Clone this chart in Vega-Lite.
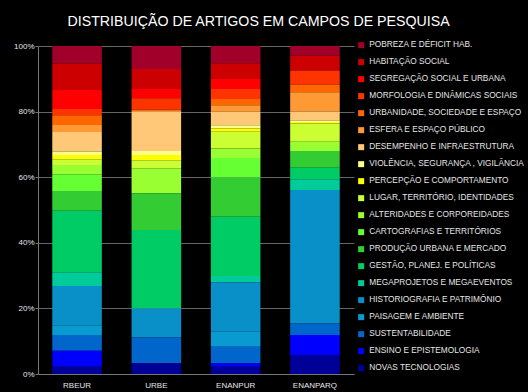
{
  "$schema": "https://vega.github.io/schema/vega-lite/v6.json",
  "width": 316,
  "height": 328,
  "autosize": {"type": "none"},
  "padding": {"left": 38, "top": 46, "right": 174, "bottom": 18},
  "background": "#000000",
  "title": {
    "text": "DISTRIBUIÇÃO DE ARTIGOS EM CAMPOS DE PESQUISA",
    "anchor": "start",
    "dx": 54,
    "fontSize": 14.2,
    "font": "Liberation Sans",
    "color": "#ffffff",
    "fontWeight": "normal",
    "offset": 1,
    "baseline": "alphabetic"
  },
  "config": {
    "view": {"stroke": null},
    "font": "Liberation Sans"
  },
  "data": {
    "values": [
      {"venue": "RBEUR", "n": 1, "campo": "POBREZA E DÉFICIT HAB.", "pct": 5.3},
      {"venue": "RBEUR", "n": 2, "campo": "HABITAÇÃO SOCIAL", "pct": 8.1},
      {"venue": "RBEUR", "n": 3, "campo": "SEGREGAÇÃO SOCIAL E URBANA", "pct": 5.8},
      {"venue": "RBEUR", "n": 4, "campo": "MORFOLOGIA E DINÂMICAS SOCIAIS", "pct": 1.9},
      {"venue": "RBEUR", "n": 5, "campo": "URBANIDADE, SOCIEDADE E ESPAÇO", "pct": 3.0},
      {"venue": "RBEUR", "n": 6, "campo": "ESFERA E ESPAÇO PÚBLICO", "pct": 2.1},
      {"venue": "RBEUR", "n": 7, "campo": "DESEMPENHO E INFRAESTRUTURA", "pct": 6.0},
      {"venue": "RBEUR", "n": 8, "campo": "VIOLÊNCIA, SEGURANÇA , VIGILÂNCIA", "pct": 1.0},
      {"venue": "RBEUR", "n": 9, "campo": "PERCEPÇÃO E COMPORTAMENTO", "pct": 1.3},
      {"venue": "RBEUR", "n": 10, "campo": "LUGAR, TERRITÓRIO, IDENTIDADES", "pct": 1.8},
      {"venue": "RBEUR", "n": 11, "campo": "ALTERIDADES E CORPOREIDADES", "pct": 2.8},
      {"venue": "RBEUR", "n": 12, "campo": "CARTOGRAFIAS E TERRITÓRIOS", "pct": 5.1},
      {"venue": "RBEUR", "n": 13, "campo": "PRODUÇÃO URBANA E MERCADO", "pct": 6.0},
      {"venue": "RBEUR", "n": 14, "campo": "GESTÃO, PLANEJ. E POLÍTICAS", "pct": 18.8},
      {"venue": "RBEUR", "n": 15, "campo": "MEGAPROJETOS E MEGAEVENTOS", "pct": 4.2},
      {"venue": "RBEUR", "n": 16, "campo": "HISTORIOGRAFIA E PATRIMÔNIO", "pct": 11.9},
      {"venue": "RBEUR", "n": 17, "campo": "PAISAGEM E AMBIENTE", "pct": 3.0},
      {"venue": "RBEUR", "n": 18, "campo": "SUSTENTABILIDADE", "pct": 4.8},
      {"venue": "RBEUR", "n": 19, "campo": "ENSINO E EPISTEMOLOGIA", "pct": 4.9},
      {"venue": "RBEUR", "n": 20, "campo": "NOVAS TECNOLOGIAS", "pct": 2.2},

      {"venue": "URBE", "n": 1, "campo": "POBREZA E DÉFICIT HAB.", "pct": 7.0},
      {"venue": "URBE", "n": 2, "campo": "HABITAÇÃO SOCIAL", "pct": 6.1},
      {"venue": "URBE", "n": 3, "campo": "SEGREGAÇÃO SOCIAL E URBANA", "pct": 2.8},
      {"venue": "URBE", "n": 4, "campo": "MORFOLOGIA E DINÂMICAS SOCIAIS", "pct": 3.5},
      {"venue": "URBE", "n": 5, "campo": "URBANIDADE, SOCIEDADE E ESPAÇO", "pct": 0.5},
      {"venue": "URBE", "n": 6, "campo": "ESFERA E ESPAÇO PÚBLICO", "pct": 0},
      {"venue": "URBE", "n": 7, "campo": "DESEMPENHO E INFRAESTRUTURA", "pct": 12.1},
      {"venue": "URBE", "n": 8, "campo": "VIOLÊNCIA, SEGURANÇA , VIGILÂNCIA", "pct": 1.2},
      {"venue": "URBE", "n": 9, "campo": "PERCEPÇÃO E COMPORTAMENTO", "pct": 1.6},
      {"venue": "URBE", "n": 10, "campo": "LUGAR, TERRITÓRIO, IDENTIDADES", "pct": 2.5},
      {"venue": "URBE", "n": 11, "campo": "ALTERIDADES E CORPOREIDADES", "pct": 7.6},
      {"venue": "URBE", "n": 12, "campo": "CARTOGRAFIAS E TERRITÓRIOS", "pct": 0},
      {"venue": "URBE", "n": 13, "campo": "PRODUÇÃO URBANA E MERCADO", "pct": 11.2},
      {"venue": "URBE", "n": 14, "campo": "GESTÃO, PLANEJ. E POLÍTICAS", "pct": 23.9},
      {"venue": "URBE", "n": 15, "campo": "MEGAPROJETOS E MEGAEVENTOS", "pct": 0},
      {"venue": "URBE", "n": 16, "campo": "HISTORIOGRAFIA E PATRIMÔNIO", "pct": 8.9},
      {"venue": "URBE", "n": 17, "campo": "PAISAGEM E AMBIENTE", "pct": 0},
      {"venue": "URBE", "n": 18, "campo": "SUSTENTABILIDADE", "pct": 7.8},
      {"venue": "URBE", "n": 19, "campo": "ENSINO E EPISTEMOLOGIA", "pct": 0},
      {"venue": "URBE", "n": 20, "campo": "NOVAS TECNOLOGIAS", "pct": 3.3},

      {"venue": "ENANPUR", "n": 1, "campo": "POBREZA E DÉFICIT HAB.", "pct": 5.3},
      {"venue": "ENANPUR", "n": 2, "campo": "HABITAÇÃO SOCIAL", "pct": 4.8},
      {"venue": "ENANPUR", "n": 3, "campo": "SEGREGAÇÃO SOCIAL E URBANA", "pct": 3.0},
      {"venue": "ENANPUR", "n": 4, "campo": "MORFOLOGIA E DINÂMICAS SOCIAIS", "pct": 3.1},
      {"venue": "ENANPUR", "n": 5, "campo": "URBANIDADE, SOCIEDADE E ESPAÇO", "pct": 1.9},
      {"venue": "ENANPUR", "n": 6, "campo": "ESFERA E ESPAÇO PÚBLICO", "pct": 2.0},
      {"venue": "ENANPUR", "n": 7, "campo": "DESEMPENHO E INFRAESTRUTURA", "pct": 4.1},
      {"venue": "ENANPUR", "n": 8, "campo": "VIOLÊNCIA, SEGURANÇA , VIGILÂNCIA", "pct": 1.0},
      {"venue": "ENANPUR", "n": 9, "campo": "PERCEPÇÃO E COMPORTAMENTO", "pct": 1.0},
      {"venue": "ENANPUR", "n": 10, "campo": "LUGAR, TERRITÓRIO, IDENTIDADES", "pct": 5.1},
      {"venue": "ENANPUR", "n": 11, "campo": "ALTERIDADES E CORPOREIDADES", "pct": 2.9},
      {"venue": "ENANPUR", "n": 12, "campo": "CARTOGRAFIAS E TERRITÓRIOS", "pct": 5.9},
      {"venue": "ENANPUR", "n": 13, "campo": "PRODUÇÃO URBANA E MERCADO", "pct": 12.0},
      {"venue": "ENANPUR", "n": 14, "campo": "GESTÃO, PLANEJ. E POLÍTICAS", "pct": 18.1},
      {"venue": "ENANPUR", "n": 15, "campo": "MEGAPROJETOS E MEGAEVENTOS", "pct": 1.9},
      {"venue": "ENANPUR", "n": 16, "campo": "HISTORIOGRAFIA E PATRIMÔNIO", "pct": 15.1},
      {"venue": "ENANPUR", "n": 17, "campo": "PAISAGEM E AMBIENTE", "pct": 4.6},
      {"venue": "ENANPUR", "n": 18, "campo": "SUSTENTABILIDADE", "pct": 5.0},
      {"venue": "ENANPUR", "n": 19, "campo": "ENSINO E EPISTEMOLOGIA", "pct": 1.1},
      {"venue": "ENANPUR", "n": 20, "campo": "NOVAS TECNOLOGIAS", "pct": 2.2},

      {"venue": "ENANPARQ", "n": 1, "campo": "POBREZA E DÉFICIT HAB.", "pct": 3.0},
      {"venue": "ENANPARQ", "n": 2, "campo": "HABITAÇÃO SOCIAL", "pct": 4.5},
      {"venue": "ENANPARQ", "n": 3, "campo": "SEGREGAÇÃO SOCIAL E URBANA", "pct": 0},
      {"venue": "ENANPARQ", "n": 4, "campo": "MORFOLOGIA E DINÂMICAS SOCIAIS", "pct": 4.2},
      {"venue": "ENANPARQ", "n": 5, "campo": "URBANIDADE, SOCIEDADE E ESPAÇO", "pct": 2.4},
      {"venue": "ENANPARQ", "n": 6, "campo": "ESFERA E ESPAÇO PÚBLICO", "pct": 5.9},
      {"venue": "ENANPARQ", "n": 7, "campo": "DESEMPENHO E INFRAESTRUTURA", "pct": 2.8},
      {"venue": "ENANPARQ", "n": 8, "campo": "VIOLÊNCIA, SEGURANÇA , VIGILÂNCIA", "pct": 0.4},
      {"venue": "ENANPARQ", "n": 9, "campo": "PERCEPÇÃO E COMPORTAMENTO", "pct": 0.4},
      {"venue": "ENANPARQ", "n": 10, "campo": "LUGAR, TERRITÓRIO, IDENTIDADES", "pct": 5.6},
      {"venue": "ENANPARQ", "n": 11, "campo": "ALTERIDADES E CORPOREIDADES", "pct": 2.8},
      {"venue": "ENANPARQ", "n": 12, "campo": "CARTOGRAFIAS E TERRITÓRIOS", "pct": 0},
      {"venue": "ENANPARQ", "n": 13, "campo": "PRODUÇÃO URBANA E MERCADO", "pct": 5.1},
      {"venue": "ENANPARQ", "n": 14, "campo": "GESTÃO, PLANEJ. E POLÍTICAS", "pct": 3.5},
      {"venue": "ENANPARQ", "n": 15, "campo": "MEGAPROJETOS E MEGAEVENTOS", "pct": 3.3},
      {"venue": "ENANPARQ", "n": 16, "campo": "HISTORIOGRAFIA E PATRIMÔNIO", "pct": 40.6},
      {"venue": "ENANPARQ", "n": 17, "campo": "PAISAGEM E AMBIENTE", "pct": 0},
      {"venue": "ENANPARQ", "n": 18, "campo": "SUSTENTABILIDADE", "pct": 3.6},
      {"venue": "ENANPARQ", "n": 19, "campo": "ENSINO E EPISTEMOLOGIA", "pct": 6.1},
      {"venue": "ENANPARQ", "n": 20, "campo": "NOVAS TECNOLOGIAS", "pct": 5.8}
    ]
  },
  "mark": {"type": "bar", "strokeWidth": 0},
  "encoding": {
    "x": {
      "field": "venue",
      "type": "nominal",
      "sort": ["RBEUR", "URBE", "ENANPUR", "ENANPARQ"],
      "scale": {"paddingInner": 0.375, "paddingOuter": 0.18},
      "axis": {
        "title": null,
        "labelAngle": 0,
        "labelFontSize": 8,
        "labelColor": "#e6e6e6",
        "labelFont": "Liberation Sans",
        "ticks": false,
        "labelPadding": 7,
        "domainColor": "#777777",
        "grid": false
      }
    },
    "y": {
      "field": "pct",
      "type": "quantitative",
      "stack": "normalize",
      "axis": {
        "title": null,
        "format": ".0%",
        "values": [0, 0.2, 0.4, 0.6, 0.8, 1],
        "labelFontSize": 8,
        "labelColor": "#e6e6e6",
        "labelFont": "Liberation Sans",
        "tickSize": 3,
        "tickColor": "#777777",
        "labelPadding": 1,
        "domainColor": "#777777",
        "gridColor": "#666666",
        "grid": true
      }
    },
    "order": {"field": "n", "type": "quantitative", "sort": "descending"},
    "color": {
      "field": "campo",
      "type": "nominal",
      "sort": [
        "POBREZA E DÉFICIT HAB.",
        "HABITAÇÃO SOCIAL",
        "SEGREGAÇÃO SOCIAL E URBANA",
        "MORFOLOGIA E DINÂMICAS SOCIAIS",
        "URBANIDADE, SOCIEDADE E ESPAÇO",
        "ESFERA E ESPAÇO PÚBLICO",
        "DESEMPENHO E INFRAESTRUTURA",
        "VIOLÊNCIA, SEGURANÇA , VIGILÂNCIA",
        "PERCEPÇÃO E COMPORTAMENTO",
        "LUGAR, TERRITÓRIO, IDENTIDADES",
        "ALTERIDADES E CORPOREIDADES",
        "CARTOGRAFIAS E TERRITÓRIOS",
        "PRODUÇÃO URBANA E MERCADO",
        "GESTÃO, PLANEJ. E POLÍTICAS",
        "MEGAPROJETOS E MEGAEVENTOS",
        "HISTORIOGRAFIA E PATRIMÔNIO",
        "PAISAGEM E AMBIENTE",
        "SUSTENTABILIDADE",
        "ENSINO E EPISTEMOLOGIA",
        "NOVAS TECNOLOGIAS"
      ],
      "scale": {
        "domain": [
          "POBREZA E DÉFICIT HAB.",
          "HABITAÇÃO SOCIAL",
          "SEGREGAÇÃO SOCIAL E URBANA",
          "MORFOLOGIA E DINÂMICAS SOCIAIS",
          "URBANIDADE, SOCIEDADE E ESPAÇO",
          "ESFERA E ESPAÇO PÚBLICO",
          "DESEMPENHO E INFRAESTRUTURA",
          "VIOLÊNCIA, SEGURANÇA , VIGILÂNCIA",
          "PERCEPÇÃO E COMPORTAMENTO",
          "LUGAR, TERRITÓRIO, IDENTIDADES",
          "ALTERIDADES E CORPOREIDADES",
          "CARTOGRAFIAS E TERRITÓRIOS",
          "PRODUÇÃO URBANA E MERCADO",
          "GESTÃO, PLANEJ. E POLÍTICAS",
          "MEGAPROJETOS E MEGAEVENTOS",
          "HISTORIOGRAFIA E PATRIMÔNIO",
          "PAISAGEM E AMBIENTE",
          "SUSTENTABILIDADE",
          "ENSINO E EPISTEMOLOGIA",
          "NOVAS TECNOLOGIAS"
        ],
        "range": [
          "#a0002a", "#cc0000", "#ff0000", "#ff3300", "#ff6600",
          "#ff9933", "#ffc878", "#ffff88", "#ffff00", "#ccff33",
          "#99ff33", "#66ff33", "#33cc33", "#00cc66", "#00cc99",
          "#0a90c8", "#0a9ad2", "#0066cc", "#0000ff", "#000099"
        ]
      },
      "legend": {
        "title": null,
        "orient": "none",
        "legendX": 319,
        "legendY": -5,
        "symbolType": "square",
        "symbolSize": 36,
        "symbolStrokeWidth": 0,
        "labelFontSize": 8.3,
        "labelColor": "#e6e6e6",
        "labelFont": "Liberation Sans",
        "labelOffset": 4,
        "labelLimit": 200,
        "rowPadding": 8,
        "padding": 0
      }
    }
  }
}
